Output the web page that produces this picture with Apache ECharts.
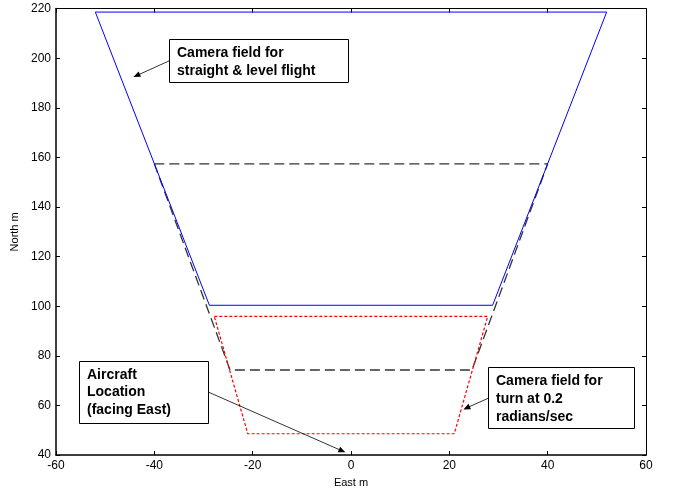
<!DOCTYPE html>
<html>
<head>
<meta charset="utf-8">
<script src="https://cdn.jsdelivr.net/npm/echarts@6/dist/echarts.min.js"></script>
<style>
  html, body { margin: 0; padding: 0; background: #fff; }
  #main { width: 675px; height: 493px; }
</style>
</head>
<body>
<div id="main"></div>
<script>
// outline corners, [east, north] in metres
var straightField = [[-52, 218.6], [52, 218.6], [28.8, 100.4], [-28.8, 100.4], [-52, 218.6]];
var dashedField = [[-40, 157.4], [40, 157.4], [24.6, 74.3], [-24.6, 74.3], [-40, 157.4]];
var turnField = [[-27.8, 95.9], [27.8, 95.9], [21, 48.6], [-21, 48.6], [-27.8, 95.9]];

// arrows: [from, to]
var arrows = [
  [[-36.9, 199.0], [-43.6, 193.0]],
  [[-28.9, 65.3], [-1.8, 41.7]],
  [[28.0, 63.0], [23.5, 59.0]]
];

var xTicks = [-60, -40, -20, 0, 20, 40, 60];
var yTicks = [40, 60, 80, 100, 120, 140, 160, 180, 200, 220];

var chart = echarts.init(document.getElementById('main'));

var tickFont = { color: '#000', fontSize: 12, fontFamily: 'Liberation Sans, Arial, sans-serif' };

function box(x, y, w, h, txt, lh) {
  return {
    type: 'group',
    children: [{
      type: 'rect',
      shape: { x: x + 0.5, y: y + 0.5, width: w, height: h },
      style: { fill: '#fff', stroke: '#000', lineWidth: 1 },
      z: 100
    }, {
      type: 'text',
      x: x + 8, y: y + 5,
      style: {
        text: txt,
        font: 'bold 14px "Liberation Sans", Arial, sans-serif',
        fill: '#000',
        lineHeight: lh,
        verticalAlign: 'top'
      },
      z: 101
    }]
  };
}

var option = {
  backgroundColor: '#ffffff',
  animation: false,
  grid: { left: 56, right: 29, top: 8.6, bottom: 35.7 },
  xAxis: [{
    type: 'value', min: -60, max: 60, interval: 20,
    name: 'East m', nameLocation: 'middle', nameGap: 20,
    nameTextStyle: { color: '#000', fontSize: 11, fontFamily: 'Liberation Sans, Arial, sans-serif' },
    axisLine: { lineStyle: { color: '#000', width: 1.5 } },
    axisTick: { inside: true, length: 4, lineStyle: { color: '#000' } },
    axisLabel: Object.assign({ margin: 5, formatter: function (v) { return xTicks.indexOf(v) >= 0 ? v : ''; } }, tickFont),
    splitLine: { show: false }
  }, {
    type: 'value', min: -60, max: 60, interval: 20, position: 'top',
    axisLine: { onZero: false, lineStyle: { color: '#000', width: 1 } },
    axisTick: { inside: true, length: 4, lineStyle: { color: '#000' } },
    axisLabel: { show: false },
    splitLine: { show: false }
  }],
  yAxis: [{
    type: 'value', min: 40, max: 220, interval: 20,
    name: 'North m', nameLocation: 'middle', nameGap: 36,
    nameTextStyle: { color: '#000', fontSize: 11, fontFamily: 'Liberation Sans, Arial, sans-serif' },
    axisLine: { show: true, onZero: false, lineStyle: { color: '#000', width: 1.5 } },
    axisTick: { show: true, inside: true, length: 4, lineStyle: { color: '#000' } },
    axisLabel: Object.assign({ margin: 5, formatter: function (v) { return yTicks.indexOf(v) >= 0 ? v : ''; } }, tickFont),
    splitLine: { show: false }
  }, {
    type: 'value', min: 40, max: 220, interval: 20, position: 'right',
    axisLine: { show: true, onZero: false, lineStyle: { color: '#000', width: 1 } },
    axisTick: { show: true, inside: true, length: 4, lineStyle: { color: '#000' } },
    axisLabel: { show: false },
    splitLine: { show: false }
  }],
  series: [{
    type: 'line', data: dashedField, showSymbol: false, silent: true,
    lineStyle: { color: '#333', width: 1.3, type: [10, 5] }
  }, {
    type: 'line', data: straightField, showSymbol: false, silent: true,
    lineStyle: { color: '#0000ff', width: 1 }
  }, {
    type: 'line', data: turnField, showSymbol: false, silent: true,
    lineStyle: { color: '#ff0000', width: 1.2, type: [3, 2] }
  }, {
    type: 'line', data: [], silent: true,
    markLine: {
      silent: true, animation: false,
      symbol: ['none', 'triangle'], symbolSize: [6, 7],
      label: { show: false },
      lineStyle: { color: '#000', width: 0.8, type: 'solid' },
      data: arrows.map(function (a) { return [{ coord: a[0] }, { coord: a[1] }]; })
    }
  }],
  graphic: [
    box(169, 39, 179, 43, 'Camera field for\nstraight & level flight', 18),
    box(79, 361, 129, 62, 'Aircraft\nLocation\n(facing East)', 17.5),
    box(488, 367, 146, 61, 'Camera field for\nturn at 0.2\nradians/sec', 18)
  ]
};

chart.setOption(option);
</script>
</body>
</html>
